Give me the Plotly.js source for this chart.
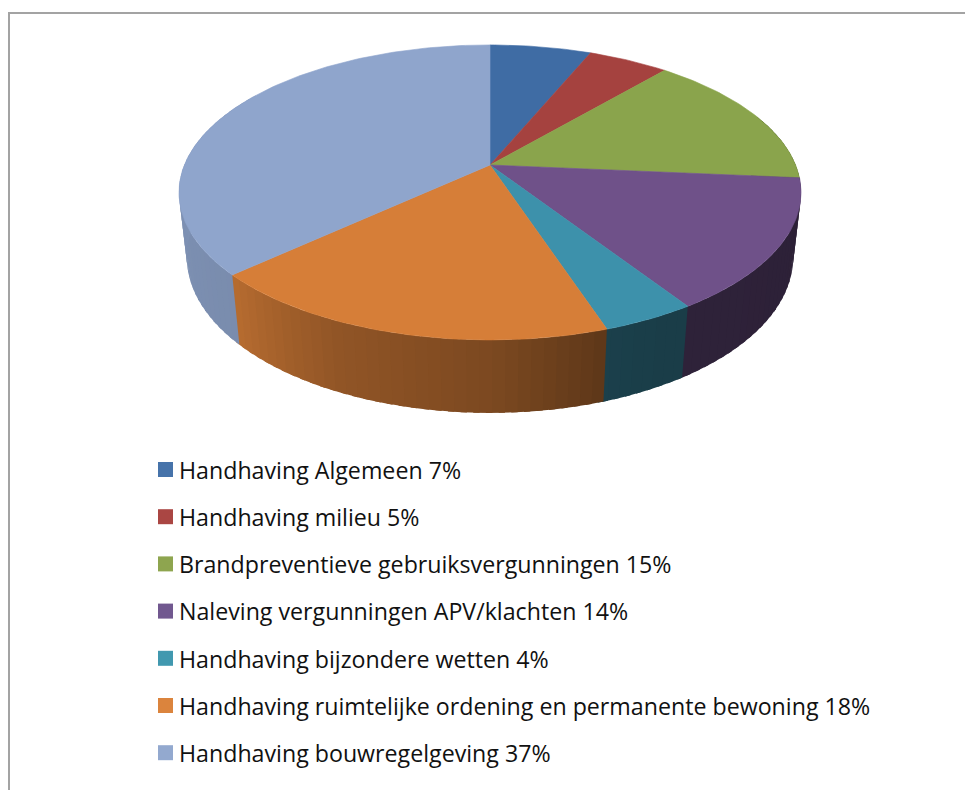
<!DOCTYPE html>
<html><head><meta charset="utf-8">
<script src="https://cdn.plot.ly/plotly-3.0.1.min.js"></script>
<style>html,body{margin:0;padding:0;background:#fff;overflow:hidden}</style>
</head><body><div id="chart" style="width:965px;height:790px"></div>
<script>
// Data
const categories = ["Handhaving Algemeen","Handhaving milieu","Brandpreventieve gebruiksvergunningen","Naleving vergunningen APV/klachten","Handhaving bijzondere wetten","Handhaving ruimtelijke ordening en permanente bewoning","Handhaving bouwregelgeving"];
const labelPercents = [7,5,15,14,4,18,37];
const drawnShares = [6.3,5.0,15.1,14.4,4.1,18.3,36.8];
const topColors = ["#3f6ca4","#a5423f","#8aa44c","#6f5189","#3d91ab","#d67e38","#8fa5cc"];
const legendColors = ["#4673aa","#aa4643","#8ea54f","#71588f","#4198af","#db843d","#93a9cf"];
// wall shading: angle (deg clockwise from back) -> brightness factor
const shadeAngles = [0,100,150,162,180,205,227,240,270,360];
const shadeFactors = [.40,.40,.42,.44,.58,.68,.85,.86,.88,.88];

// perspective projection of the pie disc
const P = {cx:490, cy:165, c:305.6, b:142.4, k:-0.186, m:0.025, d:65.6};
function project(deg, h){
  const a = deg*Math.PI/180, u = Math.sin(a), v = -Math.cos(a);
  const den = 1 + P.k*v + P.m*h;
  return [P.cx + P.c*u/den, P.cy + (P.b*v + P.d*h)/den];
}
function shade(deg){
  let i = 0;
  while(i < shadeAngles.length-2 && deg > shadeAngles[i+1]) i++;
  const t = (deg-shadeAngles[i])/(shadeAngles[i+1]-shadeAngles[i]);
  return shadeFactors[i] + t*(shadeFactors[i+1]-shadeFactors[i]);
}
function darken(hex,f){
  const n = parseInt(hex.slice(1),16);
  return `rgb(${Math.round((n>>16&255)*f)},${Math.round((n>>8&255)*f)},${Math.round((n&255)*f)})`;
}
const total = drawnShares.reduce((a,b)=>a+b,0);
const walls = [], tops = [], legend = [];
let start = 0;
drawnShares.forEach((s,i)=>{
  const end = start + s/total*360;
  // side wall, in narrow strips; each runs under the next one so no seam shows
  const stepDeg = 2;
  for(let a=start; a<end-1e-6; a+=stepDeg){
    const b = Math.min(a+stepDeg,end);
    if(b < 70 || a > 300) continue;
    const b2 = b + 1;
    const p = [project(a,0),project(b2,0),project(b2,1),project(a,1)];
    const col = darken(topColors[i],shade((a+b)/2));
    walls.push({x:p.map(q=>q[0]),y:p.map(q=>q[1]),type:'scatter',mode:'lines',fill:'toself',fillcolor:col,
      line:{width:0},hoverinfo:'skip',showlegend:false});
  }
  // top face
  const xs=[P.cx], ys=[P.cy];
  for(let a=start;;a+=1){
    const q = project(Math.min(a,end),0);
    xs.push(q[0]); ys.push(q[1]);
    if(a>=end) break;
  }
  xs.push(P.cx); ys.push(P.cy);
  tops.push({x:xs,y:ys,type:'scatter',mode:'lines',fill:'toself',fillcolor:topColors[i],
    line:{color:topColors[i],width:0.6},name:categories[i],hoverinfo:'name',showlegend:false});
  // legend row
  const rowY = 469.5 + i*47.2;
  legend.push({x:[165.5],y:[rowY],type:'scatter',mode:'markers',marker:{symbol:'square',size:15,color:legendColors[i],line:{width:0}},
    hoverinfo:'skip',showlegend:false});
  start = end;
});
const annotations = categories.map((c,i)=>({x:180,y:469.7+i*47.2,xref:'x',yref:'y',xanchor:'left',yanchor:'middle',showarrow:false,
  text:`${c} ${labelPercents[i]}%`,font:{family:'"Open Sans", sans-serif',size:23.2,color:'#111'},xshift:-3}));
const layout = {
  width:965,height:790,margin:{l:0,r:0,t:0,b:0},paper_bgcolor:'#fff',plot_bgcolor:'#fff',showlegend:false,
  xaxis:{range:[0,965],visible:false,fixedrange:true},
  yaxis:{range:[790,0],visible:false,fixedrange:true},
  annotations,
  shapes:[
    {type:'line',xref:'x',yref:'y',x0:9,x1:9,y0:12,y1:790,line:{color:'#a3a3a3',width:2},layer:'below'},
    {type:'line',xref:'x',yref:'y',x0:8,x1:965,y0:13,y1:13,line:{color:'#a3a3a3',width:2},layer:'below'}
  ]
};
Plotly.newPlot('chart',[...walls,...tops,...legend],layout,{displayModeBar:false,staticPlot:true});
</script></body></html>
